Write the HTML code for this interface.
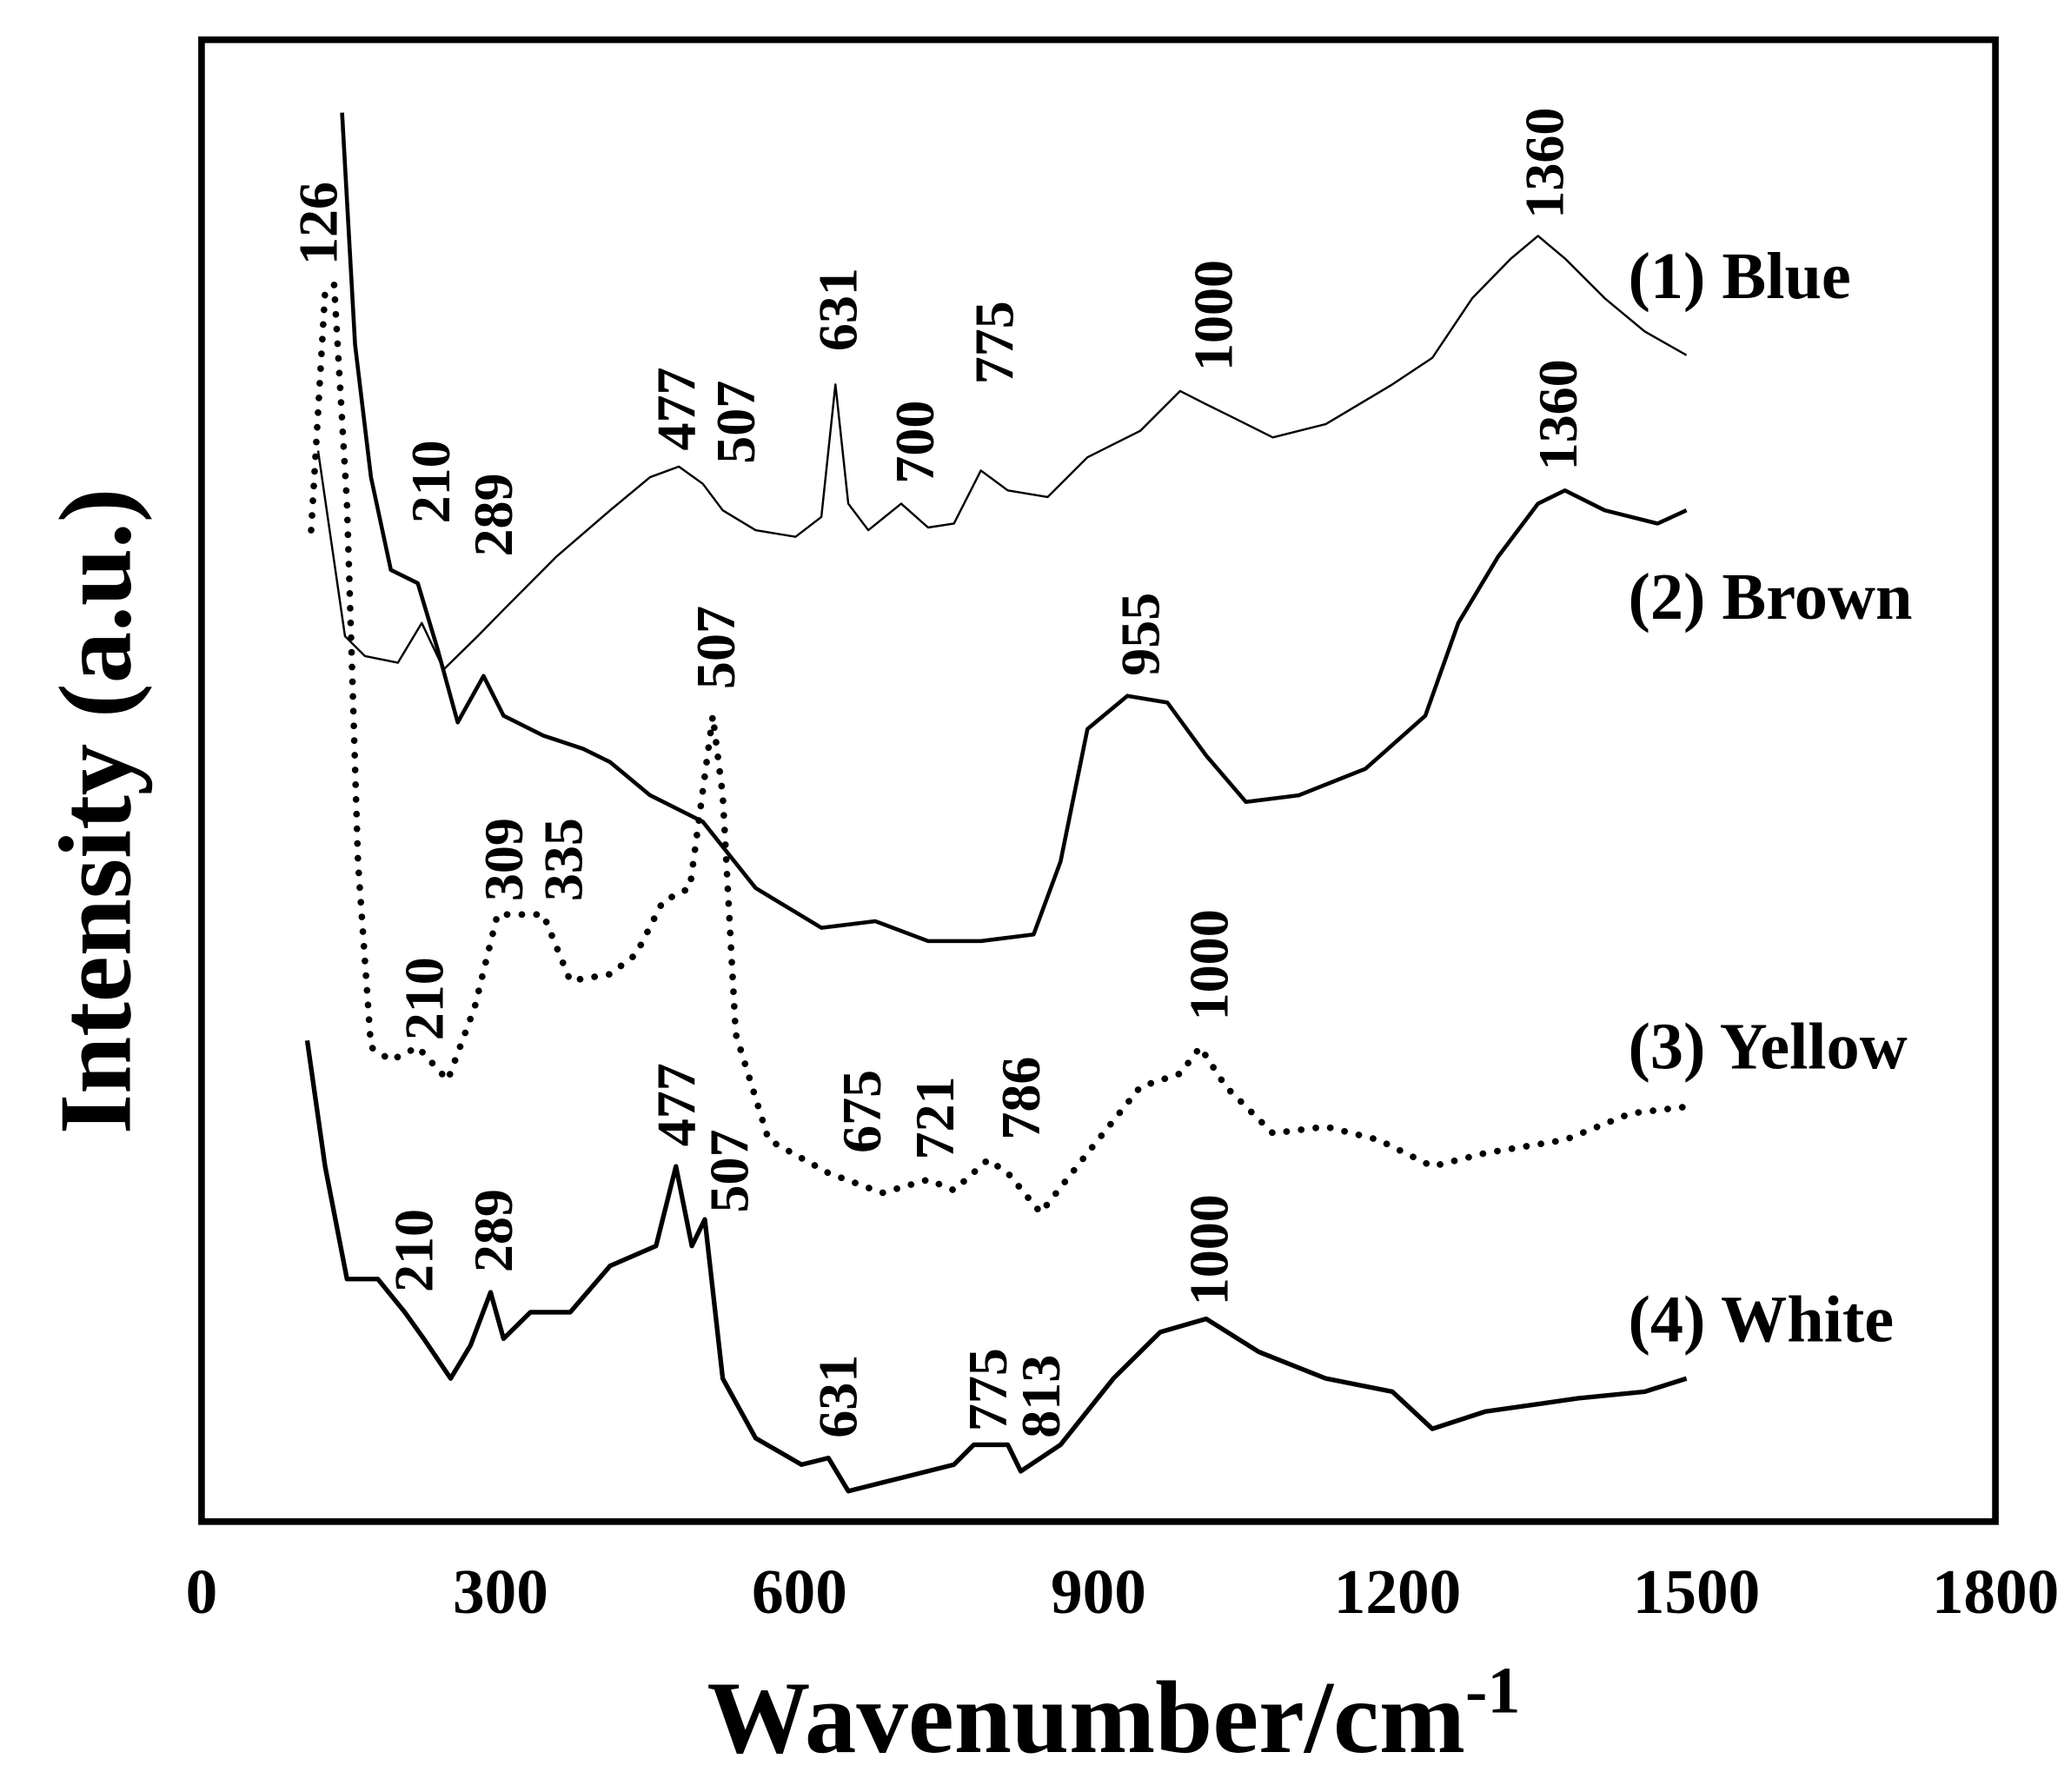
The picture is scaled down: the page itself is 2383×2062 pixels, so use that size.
<!DOCTYPE html>
<html><head><meta charset="utf-8"><style>
html,body{margin:0;padding:0;background:#fff;}
svg{display:block;}
text{font-family:"Liberation Serif",serif;font-weight:bold;fill:#000;}
</style></head><body>
<svg id="chart" width="2383" height="2062" viewBox="0 0 1562 1352" preserveAspectRatio="none" xmlns="http://www.w3.org/2000/svg">
<rect x="152" y="30" width="1353" height="1118" fill="none" stroke="#000" stroke-width="5"/>
<g id="ticks"></g>
<g id="series"></g>
<g id="peaks"></g>
<text x="840" y="1322" font-size="78" text-anchor="middle">Wavenumber/cm<tspan font-size="50" dy="-30">-1</tspan></text>
<text transform="translate(98,612) rotate(-90)" font-size="78" text-anchor="middle">Intensity (a.u.)</text>
<text x="1228" y="225" font-size="50">(1) Blue</text>
<text x="1228" y="467" font-size="50">(2) Brown</text>
<text x="1228" y="806" font-size="50">(3) Yellow</text>
<text x="1228" y="1012" font-size="50">(4) White</text>
</svg>
<script>
const xTicks = [0,300,600,900,1200,1500,1800];
const blueWn = [117,144,164,197,221,243,277,303,356,410,450,479,503,523,556,596,622,636,649,669,702,729,755,782,809,849,889,942,982,1008,1035,1075,1128,1195,1235,1275,1314,1341,1368,1408,1448,1490];
const blueI = [808,668,653,648,678,643,668,688,728,763,788,796,783,763,748,743,758,858,768,748,768,750,753,793,778,773,803,823,853,843,833,818,828,858,878,923,953,970,953,923,898,880];
const brownWn = [141,154,170,190,217,237,257,283,303,343,383,410,450,503,556,622,676,729,782,835,862,889,929,969,1008,1048,1101,1168,1228,1261,1301,1341,1368,1408,1461,1490];
const brownI = [1063,888,788,718,708,658,603,638,608,593,583,573,548,528,478,448,453,438,438,443,498,598,623,618,578,543,548,568,608,678,728,768,778,763,753,763];
const yellowWn = [110,124,133,146,157,170,190,217,247,274,297,324,343,370,410,436,463,490,513,523,536,569,629,683,729,755,789,809,842,889,942,982,1002,1028,1075,1128,1181,1235,1288,1368,1434,1490];
const yellowI = [748,928,933,768,498,358,348,358,333,388,458,458,458,408,413,428,468,478,608,548,368,288,263,248,258,250,273,263,233,278,328,338,358,328,293,298,288,268,278,288,308,313];
const whiteWn = [106,124,146,177,204,223,250,270,290,303,330,370,410,456,476,492,505,523,556,602,629,649,702,755,775,809,822,862,915,962,1008,1061,1128,1195,1235,1288,1381,1448,1490];
const whiteI = [363,268,183,183,158,138,108,133,173,138,158,158,193,208,268,208,228,108,63,43,48,23,33,43,58,58,38,58,108,143,153,128,108,98,70,83,93,98,108];
const peakLabels = ["126","210","289","477","507","631","700","775","1000","1360","1360","955","507","309","335","210","675","721","786","1000","210","289","477","507","631","775","813","1000"];
const peakX = [240,325,372,510,555,632,690,750,915,1165,1175,860,540,380,425,320,650,705,770,912,312,372,510,550,632,745,785,912];
const peakY = [200,395,420,340,350,265,365,290,280,165,355,510,520,680,680,785,870,875,860,770,975,960,865,915,1085,1080,1085,985];

const X0=152, X1=1505, YB=1148;
function xs(w){return X0+(w-0)*(X1-X0)/1800;}
function ys(v){return YB-v;}
const NS="http://www.w3.org/2000/svg";
const tg=document.getElementById('ticks');
xTicks.forEach(t=>{
  const el=document.createElementNS(NS,'text');
  el.setAttribute('x',xs(t));el.setAttribute('y',1217);
  el.setAttribute('font-size','48');el.setAttribute('text-anchor','middle');
  el.textContent=t;
  
  
  tg.appendChild(el);
});
const sg=document.getElementById('series');
function draw(wn,vals,name,width,dash){
  const p=document.createElementNS(NS,'path');
  let d='';
  wn.forEach((w,i)=>{d+=(i?'L':'M')+xs(w).toFixed(1)+','+ys(vals[i]).toFixed(1);});
  p.setAttribute('d',d);p.setAttribute('fill','none');p.setAttribute('stroke','#000');
  p.setAttribute('stroke-width',width);p.setAttribute('stroke-linejoin','round');
  if(dash){p.setAttribute('stroke-dasharray',dash);p.setAttribute('stroke-linecap','round');}
  
  
  sg.appendChild(p);
}
draw(blueWn,blueI,'blue-spectrum',1.6,null);
draw(brownWn,brownI,'brown-spectrum',3,null);
draw(yellowWn,yellowI,'yellow-spectrum',5,'0.1 11');
draw(whiteWn,whiteI,'white-spectrum',3.5,null);
const pg=document.getElementById('peaks');
peakLabels.forEach((l,i)=>{
  const el=document.createElementNS(NS,'text');
  el.setAttribute('transform','translate('+(peakX[i]+14)+','+peakY[i]+') rotate(-90)');
  el.setAttribute('font-size','42');
  el.textContent=l;
  
  
  pg.appendChild(el);
});
</script>
</body></html>
